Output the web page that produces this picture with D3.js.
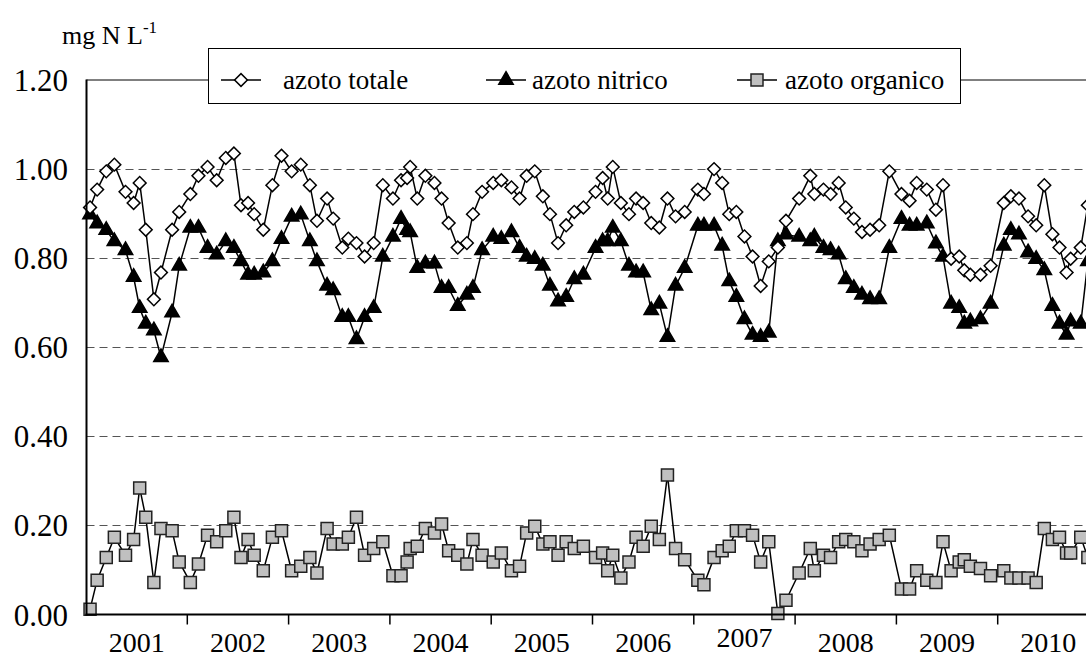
<!DOCTYPE html>
<html lang="it">
<head>
<meta charset="UTF-8">
<title>Azoto</title>
<script src="https://cdn.jsdelivr.net/npm/d3@7"></script>
<style>
  body { margin: 0; background: #fff; }
</style>
</head>
<body>
<svg id="chart" width="1086" height="659"></svg>
<script>
// sampling dates as decimal years
var dates = [2001.04, 2001.11, 2001.20, 2001.28, 2001.39, 2001.47, 2001.53, 2001.59, 2001.67, 2001.74, 2001.85, 2001.92,
  2002.03, 2002.11, 2002.20, 2002.29, 2002.38, 2002.46, 2002.53, 2002.60, 2002.66, 2002.75, 2002.84, 2002.93,
  2003.03, 2003.12, 2003.21, 2003.28, 2003.38, 2003.44, 2003.53, 2003.59, 2003.67, 2003.75, 2003.84, 2003.93,
  2004.03, 2004.11, 2004.17, 2004.20, 2004.27, 2004.35, 2004.44, 2004.51, 2004.58, 2004.67, 2004.76, 2004.82, 2004.91,
  2005.02, 2005.10, 2005.20, 2005.28, 2005.35, 2005.43, 2005.51, 2005.58, 2005.66, 2005.74, 2005.82, 2005.91,
  2006.03, 2006.10, 2006.15, 2006.20, 2006.28, 2006.36, 2006.43, 2006.50, 2006.58, 2006.66, 2006.74, 2006.82, 2006.91,
  2007.04, 2007.10, 2007.20, 2007.28, 2007.35, 2007.42, 2007.50, 2007.58, 2007.66, 2007.74, 2007.83, 2007.91,
  2008.04, 2008.15, 2008.19, 2008.28, 2008.35, 2008.43, 2008.50, 2008.58, 2008.66, 2008.74, 2008.83, 2008.93,
  2009.05, 2009.13, 2009.20, 2009.30, 2009.39, 2009.46, 2009.54, 2009.62, 2009.67, 2009.73, 2009.83, 2009.93,
  2010.06, 2010.13, 2010.21, 2010.30, 2010.38, 2010.46, 2010.54, 2010.61, 2010.68, 2010.72, 2010.82, 2010.89];

var totale = [0.913, 0.953, 0.994, 1.009, 0.948, 0.923, 0.968, 0.863, 0.707, 0.767, 0.863, 0.903,
  0.943, 0.984, 1.004, 0.974, 1.024, 1.034, 0.918, 0.923, 0.898, 0.863, 0.963, 1.029,
  0.994, 1.009, 0.963, 0.883, 0.933, 0.888, 0.823, 0.843, 0.833, 0.803, 0.833, 0.963,
  0.933, 0.974, 0.979, 1.004, 0.933, 0.984, 0.968, 0.933, 0.878, 0.823, 0.833, 0.898, 0.948,
  0.968, 0.974, 0.958, 0.933, 0.984, 0.994, 0.938, 0.898, 0.833, 0.873, 0.903, 0.913,
  0.948, 0.979, 0.933, 1.004, 0.923, 0.898, 0.933, 0.923, 0.878, 0.868, 0.933, 0.893, 0.903,
  0.953, 0.943, 0.999, 0.968, 0.898, 0.903, 0.848, 0.803, 0.737, 0.792, 0.823, 0.883,
  0.933, 0.984, 0.943, 0.953, 0.943, 0.968, 0.913, 0.888, 0.858, 0.863, 0.873, 0.994,
  0.943, 0.928, 0.968, 0.953, 0.908, 0.963, 0.798, 0.803, 0.772, 0.762, 0.762, 0.782,
  0.923, 0.938, 0.933, 0.893, 0.873, 0.963, 0.853, 0.823, 0.767, 0.798, 0.823, 0.918];

var nitrico = [0.897, 0.877, 0.862, 0.837, 0.817, 0.757, 0.687, 0.652, 0.637, 0.577, 0.677, 0.782,
  0.867, 0.867, 0.822, 0.807, 0.837, 0.822, 0.792, 0.762, 0.762, 0.767, 0.792, 0.842,
  0.892, 0.897, 0.837, 0.792, 0.737, 0.727, 0.667, 0.667, 0.617, 0.667, 0.687, 0.802,
  0.847, 0.887, 0.862, 0.857, 0.777, 0.787, 0.787, 0.732, 0.732, 0.692, 0.717, 0.732, 0.817,
  0.847, 0.842, 0.857, 0.822, 0.802, 0.797, 0.782, 0.737, 0.702, 0.712, 0.752, 0.762,
  0.822, 0.837, 0.837, 0.867, 0.837, 0.782, 0.767, 0.767, 0.682, 0.697, 0.622, 0.737, 0.777,
  0.872, 0.872, 0.872, 0.827, 0.747, 0.712, 0.662, 0.627, 0.622, 0.632, 0.837, 0.852,
  0.847, 0.837, 0.847, 0.822, 0.817, 0.807, 0.752, 0.732, 0.717, 0.707, 0.707, 0.822,
  0.887, 0.872, 0.872, 0.877, 0.832, 0.802, 0.697, 0.687, 0.652, 0.657, 0.662, 0.697,
  0.827, 0.862, 0.852, 0.812, 0.797, 0.772, 0.692, 0.652, 0.627, 0.657, 0.652, 0.792];

var organico = [0.012, 0.077, 0.128, 0.173, 0.133, 0.168, 0.284, 0.218, 0.072, 0.193, 0.188, 0.118,
  0.072, 0.113, 0.178, 0.163, 0.188, 0.218, 0.128, 0.168, 0.133, 0.098, 0.173, 0.188,
  0.098, 0.108, 0.128, 0.093, 0.193, 0.158, 0.158, 0.173, 0.218, 0.133, 0.148, 0.163,
  0.087, 0.087, 0.118, 0.148, 0.153, 0.193, 0.183, 0.203, 0.143, 0.133, 0.113, 0.168, 0.133,
  0.118, 0.138, 0.098, 0.108, 0.183, 0.198, 0.158, 0.163, 0.133, 0.163, 0.148, 0.153,
  0.128, 0.138, 0.098, 0.133, 0.082, 0.118, 0.173, 0.153, 0.198, 0.168, 0.313, 0.148, 0.123,
  0.077, 0.067, 0.128, 0.143, 0.153, 0.188, 0.188, 0.178, 0.118, 0.163, 0.002, 0.032,
  0.093, 0.148, 0.098, 0.133, 0.128, 0.163, 0.168, 0.163, 0.143, 0.158, 0.168, 0.178,
  0.057, 0.057, 0.098, 0.077, 0.072, 0.163, 0.098, 0.118, 0.123, 0.108, 0.103, 0.087,
  0.098, 0.082, 0.082, 0.082, 0.072, 0.193, 0.168, 0.173, 0.138, 0.138, 0.173, 0.128];

var years = ["2001", "2002", "2003", "2004", "2005", "2006", "2007", "2008", "2009", "2010"];
var yTicks = [0, 0.2, 0.4, 0.6, 0.8, 1.0, 1.2];
var seriesNames = ["azoto totale", "azoto nitrico", "azoto organico"];

var FONT = "'Liberation Serif', 'DejaVu Serif', 'Times New Roman', serif";

var svg = d3.select("#chart");
var plotLeft = 86.5, plotTop = 79.5, plotBottom = 614.5, plotRight = 1086;

var x = d3.scaleLinear().domain([2001, 2011]).range([86, 1099]);
var y = d3.scaleLinear().domain([0, 1.2]).range([plotBottom, plotTop]);

// gridlines
svg.append("g").selectAll("line")
    .data(yTicks.filter(function(d) { return d > 0 && d < 1.2; }))
    .enter().append("line")
    .attr("x1", plotLeft).attr("x2", plotRight)
    .attr("y1", function(d) { return Math.round(y(d)) + 0.5; })
    .attr("y2", function(d) { return Math.round(y(d)) + 0.5; })
    .attr("stroke", "#555").attr("stroke-width", 1)
    .attr("stroke-dasharray", "8,5");

// top frame
svg.append("line")
    .attr("x1", plotLeft).attr("x2", plotRight)
    .attr("y1", plotTop + 0.5).attr("y2", plotTop + 0.5)
    .attr("stroke", "#000").attr("stroke-width", 1);

// y labels
svg.append("g").selectAll("text")
    .data(yTicks)
    .enter().append("text")
    .attr("x", 68)
    .attr("y", function(d) { return y(d) + 11; })
    .attr("text-anchor", "end")
    .attr("font-family", FONT)
    .style("font-size", "31px")
    .text(function(d) { return d3.format(".2f")(d); });

// unit
var unit = svg.append("text").attr("x", 62).attr("y", 44)
    .attr("font-family", FONT).style("font-size", "26px");
unit.append("tspan").text("mg N L");
unit.append("tspan").attr("dy", -11).style("font-size", "17px").text("-1");

// x year ticks and labels
svg.append("g").selectAll("line")
    .data(d3.range(2002, 2011))
    .enter().append("line")
    .attr("x1", function(d) { return x(d); }).attr("x2", function(d) { return x(d); })
    .attr("y1", plotBottom).attr("y2", plotBottom + 10)
    .attr("stroke", "#000").attr("stroke-width", 1.5);

svg.append("g").selectAll("text")
    .data(years)
    .enter().append("text")
    .attr("x", function(d) { return x(+d + 0.5); })
    .attr("y", function(d) { return d === "2007" ? 647 : 652; })
    .attr("text-anchor", "middle")
    .attr("font-family", FONT)
    .style("font-size", "28px")
    .text(function(d) { return d; });

var line = d3.line()
    .x(function(d) { return x(d[0]); })
    .y(function(d) { return y(d[1]); });

function zip(vals) { return dates.map(function(t, i) { return [t, vals[i]]; }); }

var sym = [
  { vals: totale, type: d3.symbolSquare, size: 82, rot: 45, fill: "#fff", stroke: "#000" },
  { vals: nitrico, type: d3.symbolTriangle, size: 90, rot: 0, fill: "#000", stroke: "#000" },
  { vals: organico, type: d3.symbolSquare, size: 144, rot: 0, fill: "#c0c0c0", stroke: "#222" }
];

var plot = svg.append("g");
sym.slice().reverse().forEach(function(s) {
    var data = zip(s.vals);
    plot.append("path")
        .datum(data)
        .attr("d", line)
        .attr("fill", "none")
        .attr("stroke", "#000")
        .attr("stroke-width", 1.5);
    plot.append("g").selectAll("path")
        .data(data)
        .enter().append("path")
        .attr("transform", function(d) { return "translate(" + x(d[0]) + "," + y(d[1]) + ") rotate(" + s.rot + ")"; })
        .attr("d", d3.symbol().type(s.type).size(s.size))
        .attr("fill", s.fill)
        .attr("stroke", s.stroke)
        .attr("stroke-width", 1.5);
});

// axes lines
svg.append("line").attr("x1", plotLeft).attr("x2", plotLeft).attr("y1", plotTop).attr("y2", plotBottom + 1)
    .attr("stroke", "#000").attr("stroke-width", 2);
svg.append("line").attr("x1", plotLeft - 1).attr("x2", plotRight).attr("y1", plotBottom).attr("y2", plotBottom)
    .attr("stroke", "#000").attr("stroke-width", 2);

// legend
var legend = svg.append("g");
legend.append("rect")
    .attr("x", 208.5).attr("y", 48.5).attr("width", 752).attr("height", 55)
    .attr("fill", "#fff").attr("stroke", "#000").attr("stroke-width", 1);

var legX = [221, 486, 737];
var legTextX = [283, 532, 785];
seriesNames.forEach(function(name, i) {
    var s = sym[i];
    var g = legend.append("g").attr("transform", "translate(" + legX[i] + ",80)");
    g.append("line").attr("x1", 0).attr("x2", 40).attr("y1", 0).attr("y2", 0)
        .attr("stroke", "#000").attr("stroke-width", 1.5);
    g.append("path").attr("transform", "translate(20,0) rotate(" + s.rot + ")")
        .attr("d", d3.symbol().type(s.type).size(s.size))
        .attr("fill", s.fill).attr("stroke", s.stroke).attr("stroke-width", 1.5);
    g.append("text").attr("x", legTextX[i] - legX[i]).attr("y", 9)
        .attr("font-family", FONT).style("font-size", "27px").text(name);
});
</script>
</body>
</html>
